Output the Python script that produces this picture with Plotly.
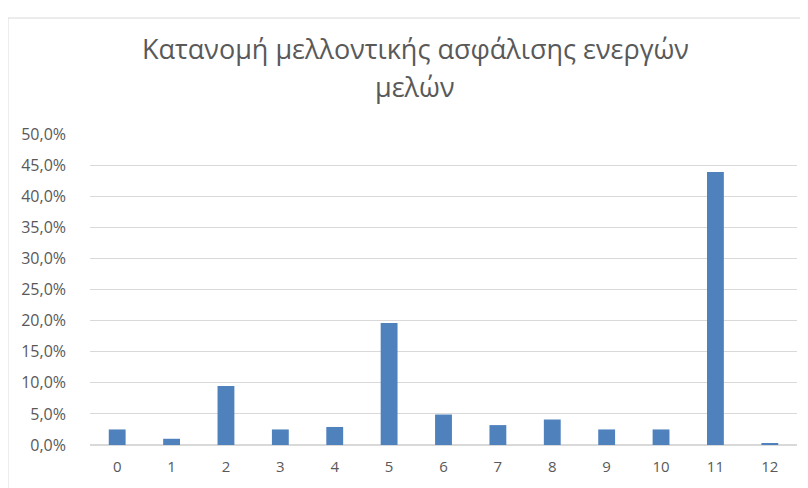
import plotly.graph_objects as go

categories = ["0", "1", "2", "3", "4", "5", "6", "7", "8", "9", "10", "11", "12"]
values = [0.025, 0.010, 0.095, 0.025, 0.029, 0.196, 0.049, 0.032, 0.041, 0.025, 0.025, 0.439, 0.002]
y_ticks = [0, 0.05, 0.10, 0.15, 0.20, 0.25, 0.30, 0.35, 0.40, 0.45, 0.50]
title_lines = ["Κατανομή μελλοντικής ασφάλισης ενεργών", "μελών"]

fig = go.Figure(go.Bar(x=categories, y=values, marker=dict(color="#4F81BD", line=dict(width=0))))

W, H = 808, 488
L, R, T, B = 82, 19, 126, 51
pw, ph = W - L - R, H - T - B
plot_bottom = H - B

def px_x(x):
    return (x - L) / pw

def px_y(y):
    return (plot_bottom - y) / ph

annotations = [
    dict(text=title_lines[0], xref="paper", yref="paper", x=px_x(407), y=px_y(40),
         xanchor="center", yanchor="middle", showarrow=False,
         font=dict(size=27, color="#595959", family="Open Sans")),
    dict(text=title_lines[1], xref="paper", yref="paper", x=px_x(407), y=px_y(78),
         xanchor="center", yanchor="middle", showarrow=False,
         font=dict(size=27, color="#595959", family="Open Sans")),
]

fig.update_layout(
    width=W, height=H,
    margin=dict(l=L, r=R, t=T, b=B),
    paper_bgcolor="white", plot_bgcolor="white",
    separators=", ",
    bargap=0.69,
    showlegend=False,
    font=dict(family="Open Sans", color="#595959", size=15),
    annotations=annotations,
    xaxis=dict(type="category", showgrid=False, showline=False, ticks="", ticklabelstandoff=11,
               tickfont=dict(size=15, color="#595959")),
    yaxis=dict(range=[0, 0.5], tickvals=y_ticks, tickformat=".1%", showgrid=True, gridcolor="#D9D9D9",
               zeroline=True, zerolinecolor="#D9D9D9", showline=False, ticks="", ticklabelstandoff=23,
               tickfont=dict(size=16, color="#595959")),
    shapes=[dict(type="rect", xref="paper", yref="paper",
                 x0=px_x(0), x1=px_x(W + 20),
                 y0=px_y(H + 20), y1=px_y(10),
                 line=dict(color="#D9D9D9", width=1), fillcolor="rgba(0,0,0,0)", layer="below")],
)

fig.write_html("out.html")
